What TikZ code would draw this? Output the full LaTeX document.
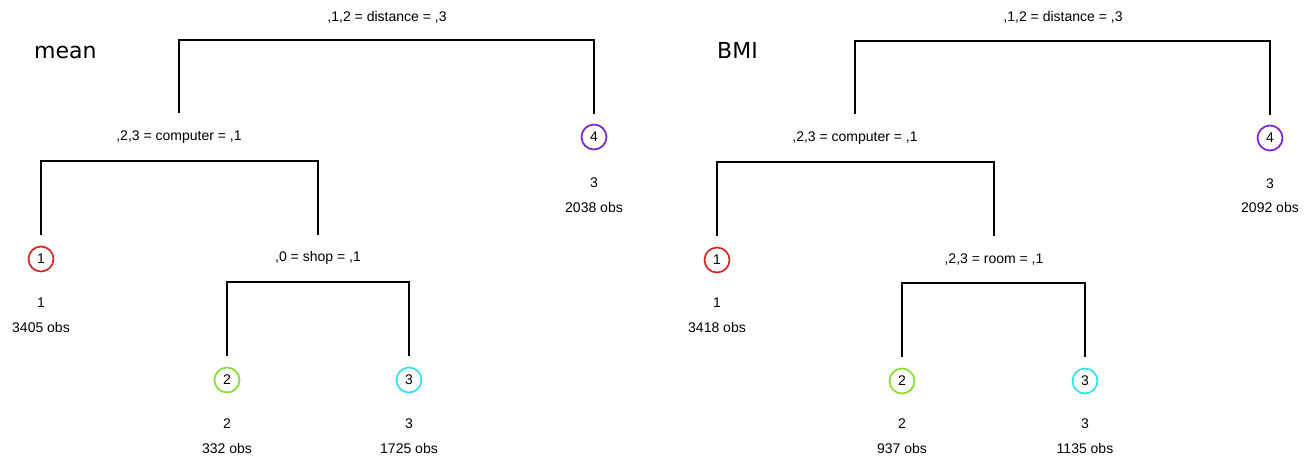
\documentclass[tikz,border=0pt]{standalone}
\usepackage{fontspec}
\setmainfont{Liberation Sans}
\newfontfamily\titlefont{DejaVu Sans}
\usetikzlibrary{calc}
\definecolor{cred}{HTML}{DD2424}
\definecolor{cgreen}{HTML}{86E032}
\definecolor{ccyan}{HTML}{30E2F0}
\definecolor{cpurple}{HTML}{7A22DA}
\begin{document}
\begin{tikzpicture}[x=1pt,y=-1pt,
  txt/.style={font=\fontsize{14}{16}\selectfont, inner sep=0pt},
  title/.style={font=\titlefont\fontsize{22}{26}\selectfont, inner sep=0pt, anchor=base west},
  leaf/.style={circle, draw=#1, line width=1.7pt, minimum size=25pt, inner sep=0pt, font=\fontsize{14}{16}\selectfont},
  branch/.style={line width=1.6pt, black}]
\useasboundingbox (0,0) rectangle (1311,459);
\fill[white] (0,0) rectangle (1311,459);

% ---------------- left tree (mean) ----------------
\node[title] (Ltitle) at (34,58) {mean};
\node[txt] (Lroot) at (387,17) {,1,2 = distance = ,3};
\node[txt] (Lcmp) at (179,137) {,2,3 = computer = ,1};
\node[leaf=cpurple] (Ln4) at (594,137) {4};
\node[txt] (Ln4a) at (594,183) {3};
\node[txt] (Ln4b) at (594,207) {2038 obs};
\node[leaf=cred] (Ln1) at (41,259) {1};
\node[txt] (Ln1a) at (41,303) {1};
\node[txt] (Ln1b) at (41,327) {3405 obs};
\node[txt] (Lshop) at (318,258) {,0 = shop = ,1};
\node[leaf=cgreen] (Ln2) at (227,380) {2};
\node[txt] (Ln2a) at (227,424) {2};
\node[txt] (Ln2b) at (227,448) {332 obs};
\node[leaf=ccyan] (Ln3) at (409,380) {3};
\node[txt] (Ln3a) at (409,424) {3};
\node[txt] (Ln3b) at (409,448) {1725 obs};

\draw[branch] ($(Lcmp)+(0,-24)$) |- ($(Ln4)+(0,-97)$) -- ($(Ln4)+(0,-23)$);
\draw[branch] ($(Ln1)+(0,-24)$) |- ($(Lshop)+(0,-97)$) -- ($(Lshop)+(0,-23)$);
\draw[branch] ($(Ln2)+(0,-24)$) |- ($(Ln3)+(0,-98)$) -- ($(Ln3)+(0,-24)$);

% ---------------- right tree (BMI) ----------------
\node[title] (Rtitle) at (717,58) {BMI};
\node[txt] (Rroot) at (1063,17) {,1,2 = distance = ,3};
\node[txt] (Rcmp) at (855,138) {,2,3 = computer = ,1};
\node[leaf=cpurple] (Rn4) at (1270,138) {4};
\node[txt] (Rn4a) at (1270,184) {3};
\node[txt] (Rn4b) at (1270,207) {2092 obs};
\node[leaf=cred] (Rn1) at (717,260) {1};
\node[txt] (Rn1a) at (717,303) {1};
\node[txt] (Rn1b) at (717,327) {3418 obs};
\node[txt] (Rroom) at (994,259) {,2,3 = room = ,1};
\node[leaf=cgreen] (Rn2) at (902,381) {2};
\node[txt] (Rn2a) at (902,424) {2};
\node[txt] (Rn2b) at (902,448) {937 obs};
\node[leaf=ccyan] (Rn3) at (1085,381) {3};
\node[txt] (Rn3a) at (1085,424) {3};
\node[txt] (Rn3b) at (1085,448) {1135 obs};

\draw[branch] ($(Rcmp)+(0,-24)$) |- ($(Rn4)+(0,-97)$) -- ($(Rn4)+(0,-23)$);
\draw[branch] ($(Rn1)+(0,-24)$) |- ($(Rroom)+(0,-97)$) -- ($(Rroom)+(0,-23)$);
\draw[branch] ($(Rn2)+(0,-24)$) |- ($(Rn3)+(0,-98)$) -- ($(Rn3)+(0,-24)$);
\end{tikzpicture}
\end{document}
